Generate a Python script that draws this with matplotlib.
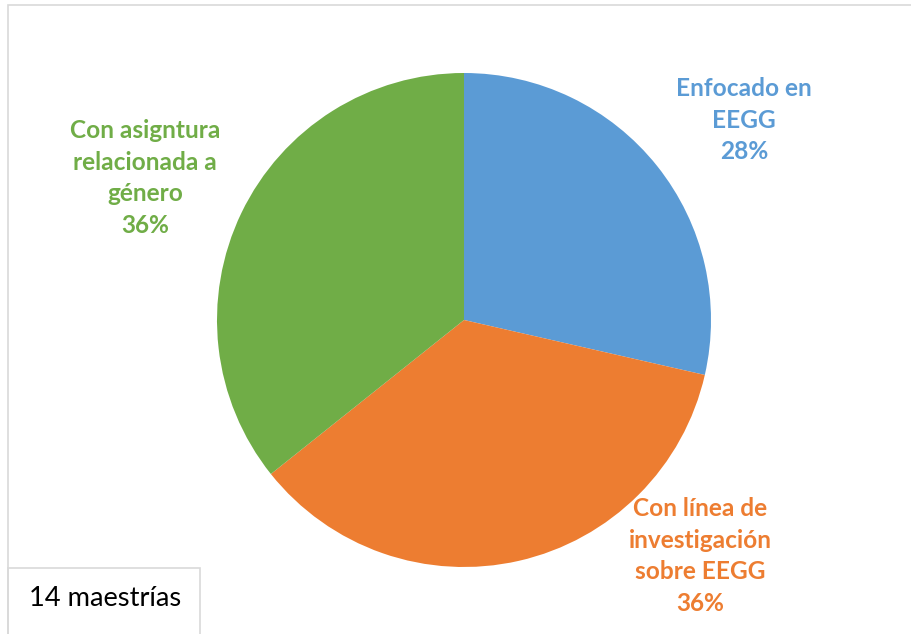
import matplotlib.pyplot as plt
from matplotlib.patches import Rectangle

# maestrías por tipo (de 14)
labels = ['Enfocado en\nEEGG', 'Con línea de\ninvestigación\nsobre EEGG', 'Con asigntura\nrelacionada a\ngénero']
counts = [4, 5, 5]
pcts = ['28%', '36%', '36%']
colors = ['#5B9BD5', '#ED7D31', '#70AD47']

W, H = 911, 634
fig = plt.figure(figsize=(W / 100, H / 100), dpi=100)
plt.rcParams['font.family'] = ['Lato', 'DejaVu Sans']

cx, cy, r = 464, 320, 247
ax = fig.add_axes([(cx - r) / W, (H - cy - r) / H, 2 * r / W, 2 * r / H])
ax.pie(counts, colors=colors, startangle=90, counterclock=False, radius=1,
       wedgeprops=dict(linewidth=0))
ax.set_xlim(-1, 1)
ax.set_ylim(-1, 1)
ax.axis('off')

# etiquetas (posición en px)
pos = [(744, 120), (700, 556), (145, 178)]
for lab, p, c, (x, y) in zip(labels, pcts, colors, pos):
    fig.text(x / W, 1 - y / H, lab + '\n' + p, color=c, fontsize=17.6, fontweight='bold',
             ha='center', va='center', linespacing=1.45)

# marco del gráfico
fig.add_artist(Rectangle((8 / W, -0.1), 1.0, (H - 5) / H + 0.1, transform=fig.transFigure,
                         fill=False, ec='#d9d9d9', lw=1.2))
fig.add_artist(Rectangle((8 / W, -0.1), (200 - 8) / W, (H - 568) / H + 0.1, transform=fig.transFigure,
                         fill=False, ec='#d9d9d9', lw=1.2))
fig.text(105 / W, 1 - 598 / H, '14 maestrías', fontsize=19.6, ha='center', va='center', color='black')

fig.savefig('out.png', dpi=100)
